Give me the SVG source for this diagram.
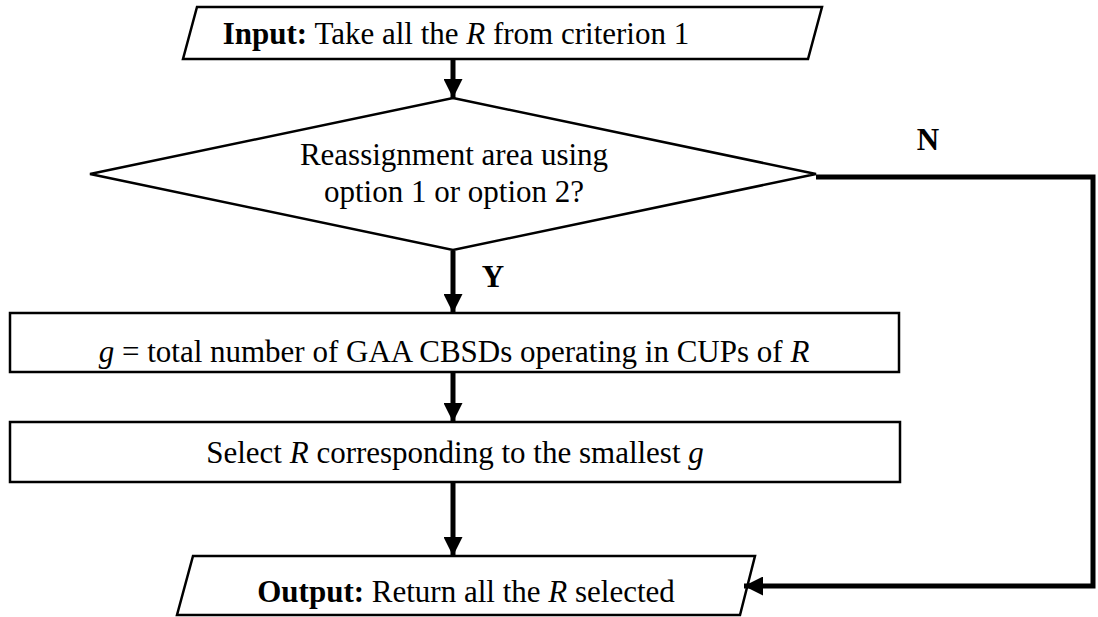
<svg xmlns="http://www.w3.org/2000/svg" width="1098" height="617" viewBox="0 0 1098 617">
<defs>
<marker id="ah" viewBox="0 0 10 10" refX="10" refY="5" markerWidth="4" markerHeight="3.8" orient="auto" markerUnits="strokeWidth">
<path d="M0,0 L10,5 L0,10 Z" fill="#000"/>
</marker>
<style>
.shape{fill:#fff;stroke:#000;stroke-width:2.5}
.t{font-family:"Liberation Serif","Times New Roman",serif;font-size:31px;fill:#000;text-anchor:middle}
.b{font-weight:bold}
.i{font-style:italic}
.c{fill:none;stroke:#000;stroke-width:5}
</style>
</defs>
<rect width="1098" height="617" fill="#fff"/>
<g id="input">
<polygon class="shape" points="197,7 822,7 808,59 183,59"/>
<text class="t" x="456" y="44"><tspan class="b">Input:</tspan> Take all the <tspan class="i">R</tspan> from criterion 1</text>
</g>
<g id="decision">
<polygon class="shape" points="453,98 816,174 453,250 90,174"/>
<text class="t" x="454" y="165">Reassignment area using</text>
<text class="t" x="454" y="202">option 1 or option 2?</text>
</g>
<g id="count">
<rect class="shape" x="10" y="313" width="889" height="59"/>
<text class="t" x="454" y="362"><tspan class="i">g</tspan> = total number of GAA CBSDs operating in CUPs of <tspan class="i">R</tspan></text>
</g>
<g id="select">
<rect class="shape" x="10" y="422" width="890" height="60"/>
<text class="t" x="455" y="463">Select <tspan class="i">R</tspan> corresponding to the smallest <tspan class="i">g</tspan></text>
</g>
<g id="output">
<polygon class="shape" points="193,556 755,556 740,615 177,615"/>
<text class="t" x="466" y="602"><tspan class="b">Output:</tspan> Return all the <tspan class="i">R</tspan> selected</text>
</g>
<g id="connectors">
<line class="c" x1="453" y1="60" x2="453" y2="98" marker-end="url(#ah)"/>
<line class="c" x1="453" y1="251" x2="453" y2="313" marker-end="url(#ah)"/>
<line class="c" x1="453" y1="373" x2="453" y2="422" marker-end="url(#ah)"/>
<line class="c" x1="453" y1="483" x2="453" y2="556" marker-end="url(#ah)"/>
<polyline class="c" points="816,177 1093,177 1093,586 744,586" marker-end="url(#ah)"/>
<text class="t b" x="928" y="150">N</text>
<text class="t b" x="493" y="287">Y</text>
</g>
</svg>
